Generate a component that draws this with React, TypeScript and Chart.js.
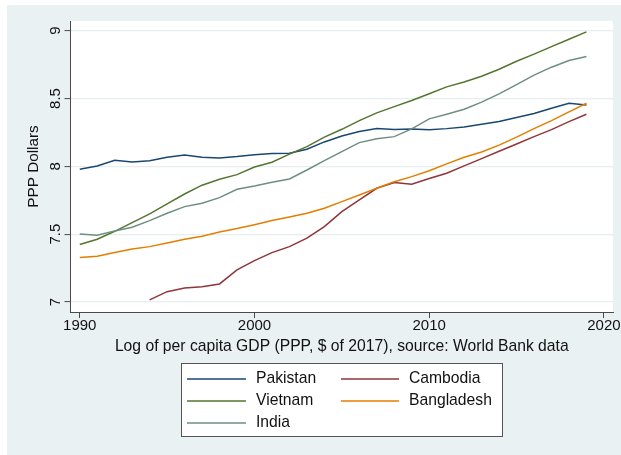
import React, { useEffect, useRef } from "react";
import { Chart, registerables } from "chart.js";

Chart.register(...registerables);

const years = [
  1990, 1991, 1992, 1993, 1994, 1995, 1996, 1997, 1998, 1999,
  2000, 2001, 2002, 2003, 2004, 2005, 2006, 2007, 2008, 2009,
  2010, 2011, 2012, 2013, 2014, 2015, 2016, 2017, 2018, 2019,
];

const pakistan = [
  7.979, 8.003, 8.045, 8.032, 8.042, 8.067, 8.084, 8.067, 8.062, 8.072,
  8.086, 8.094, 8.097, 8.126, 8.18, 8.224, 8.256, 8.278, 8.271, 8.276,
  8.27, 8.278, 8.29, 8.31, 8.33, 8.36, 8.39, 8.428, 8.465, 8.453,
];

const cambodia = [
  null, null, null, null, 7.015, 7.076, 7.103, 7.113, 7.133, 7.236,
  7.305, 7.364, 7.408, 7.47, 7.555, 7.666, 7.752, 7.838, 7.88, 7.868,
  7.91, 7.949, 8.003, 8.057, 8.111, 8.165, 8.219, 8.271, 8.33, 8.384,
];

const vietnam = [
  7.423, 7.462, 7.521, 7.585, 7.649, 7.723, 7.796, 7.861, 7.905, 7.939,
  7.995, 8.03, 8.09, 8.145, 8.215, 8.273, 8.337, 8.394, 8.44, 8.485,
  8.535, 8.586, 8.622, 8.664, 8.716, 8.775, 8.827, 8.883, 8.937, 8.991,
];

const bangladesh = [
  7.327, 7.337, 7.364, 7.391, 7.408, 7.435, 7.462, 7.484, 7.516, 7.541,
  7.57, 7.6, 7.627, 7.654, 7.691, 7.74, 7.789, 7.838, 7.887, 7.924,
  7.968, 8.018, 8.067, 8.106, 8.156, 8.215, 8.278, 8.337, 8.401, 8.465,
];

const india = [
  7.501, 7.492, 7.524, 7.551, 7.6, 7.654, 7.703, 7.728, 7.769, 7.831,
  7.855, 7.883, 7.907, 7.973, 8.042, 8.108, 8.175, 8.204, 8.219, 8.276,
  8.35, 8.384, 8.421, 8.473, 8.534, 8.603, 8.672, 8.731, 8.78, 8.809,
];

const seriesNames = ["Pakistan", "Cambodia", "Vietnam", "Bangladesh", "India"];
const seriesValues = [pakistan, cambodia, vietnam, bangladesh, india];
const seriesColors = ["#1a476f", "#90353b", "#55752f", "#e37e00", "#6e8e84"];

const xTickValues = [1990, 2000, 2010, 2020];
const yTickValues = [7, 7.5, 8, 8.5, 9];
const yTickLabels = ["7", "7.5", "8", "8.5", "9"];

const xTitle = "Log of per capita GDP (PPP, $ of 2017), source: World Bank data";
const yTitle = "PPP Dollars";

const FONT = '"Liberation Sans", Arial, Helvetica, sans-serif';
const BG = "#eaf1f3";
const AXIS = "#4a4a4a";

export default function App() {
  const ref = useRef<HTMLCanvasElement | null>(null);

  useEffect(() => {
    document.body.style.margin = "0";
    const canvas = ref.current;
    if (!canvas) return;

    const decor = {
      id: "decor",
      beforeDraw(chart: any) {
        const { ctx, width, height, chartArea: a } = chart;
        ctx.save();
        ctx.fillStyle = "#ffffff";
        ctx.fillRect(0, 0, width, height);
        ctx.fillStyle = BG;
        ctx.fillRect(7, 5, width - 7, height - 5);
        ctx.fillStyle = "#ffffff";
        ctx.fillRect(a.left, a.top, a.right - a.left, a.bottom - a.top);
        ctx.restore();
      },
      afterDraw(chart: any) {
        const { ctx } = chart;
        const xs = chart.scales.x;
        const ys = chart.scales.y;
        ctx.save();
        ctx.fillStyle = "#111111";
        ctx.font = `15px ${FONT}`;
        // x tick labels
        ctx.textAlign = "center";
        ctx.textBaseline = "middle";
        xTickValues.forEach((v) => {
          ctx.fillText(String(v), xs.getPixelForValue(v), 326);
        });
        // x title
        ctx.font = `15.7px ${FONT}`;
        ctx.fillText(xTitle, (chart.chartArea.left + chart.chartArea.right) / 2, 347);
        // y tick labels rotated
        ctx.font = `15px ${FONT}`;
        yTickValues.forEach((v, i) => {
          ctx.save();
          ctx.translate(56, ys.getPixelForValue(v));
          ctx.rotate(-Math.PI / 2);
          ctx.fillText(yTickLabels[i], 0, 0);
          ctx.restore();
        });
        // y title
        ctx.font = `15.3px ${FONT}`;
        ctx.save();
        ctx.translate(34, (chart.chartArea.top + chart.chartArea.bottom) / 2);
        ctx.rotate(-Math.PI / 2);
        ctx.fillText(yTitle, 0, 0);
        ctx.restore();

        // legend
        ctx.fillStyle = "#ffffff";
        ctx.fillRect(181.5, 363.5, 321, 73);
        ctx.strokeStyle = "#555555";
        ctx.lineWidth = 1;
        ctx.strokeRect(181.5, 363.5, 321, 73);
        const colLine = [[187, 246], [341, 399]];
        const colText = [256, 409];
        const rowY = [379, 401, 423];
        ctx.textAlign = "left";
        ctx.font = `15.7px ${FONT}`;
        seriesNames.forEach((name, i) => {
          const c = i % 2;
          const r = Math.floor(i / 2);
          ctx.strokeStyle = seriesColors[i];
          ctx.lineWidth = 1.5;
          ctx.beginPath();
          ctx.moveTo(colLine[c][0], rowY[r]);
          ctx.lineTo(colLine[c][1], rowY[r]);
          ctx.stroke();
          ctx.fillStyle = "#111111";
          ctx.fillText(name, colText[c], rowY[r]);
        });
        ctx.restore();
      },
    };

    const chart = new Chart(canvas, {
      type: "line",
      data: {
        datasets: seriesNames.map((name, i) => ({
          label: name,
          data: years.map((y, j) => ({ x: y, y: seriesValues[i][j] })),
          borderColor: seriesColors[i],
          backgroundColor: seriesColors[i],
          borderWidth: 1.5,
          pointRadius: 0,
          tension: 0,
          fill: false,
          spanGaps: false,
          order: seriesNames.length - i,
        })),
      },
      options: {
        animation: false,
        responsive: false,
        maintainAspectRatio: false,
        devicePixelRatio: 1,
        layout: { padding: { top: 21, right: 8, left: 0, bottom: 0 } },
        plugins: {
          legend: { display: false },
          tooltip: { enabled: false },
          title: { display: false },
        },
        scales: {
          x: {
            type: "linear",
            min: 1989.47,
            max: 2020.52,
            afterFit: (s: any) => {
              s.height = 455 - 312;
            },
            afterBuildTicks: (s: any) => {
              s.ticks = xTickValues.map((v) => ({ value: v }));
            },
            ticks: { display: false },
            grid: {
              drawOnChartArea: false,
              drawTicks: true,
              tickLength: 6,
              tickColor: AXIS,
              tickWidth: 1,
            },
            border: { display: true, color: AXIS, width: 1 },
          },
          y: {
            type: "linear",
            min: 6.926,
            max: 9.0715,
            afterFit: (s: any) => {
              s.width = 70.5;
            },
            afterBuildTicks: (s: any) => {
              s.ticks = yTickValues.map((v) => ({ value: v }));
            },
            ticks: { display: false },
            grid: {
              color: "#e6eef0",
              lineWidth: 1.2,
              drawOnChartArea: true,
              drawTicks: true,
              tickLength: 6,
              tickColor: AXIS,
              tickWidth: 1,
            },
            border: { display: true, color: AXIS, width: 1 },
          },
        },
      },
      plugins: [decor],
    });

    return () => chart.destroy();
  }, []);

  return (
    <div style={{ width: 621, height: 455 }}>
      <canvas ref={ref} width={621} height={455} style={{ display: "block", width: 621, height: 455 }} />
    </div>
  );
}
